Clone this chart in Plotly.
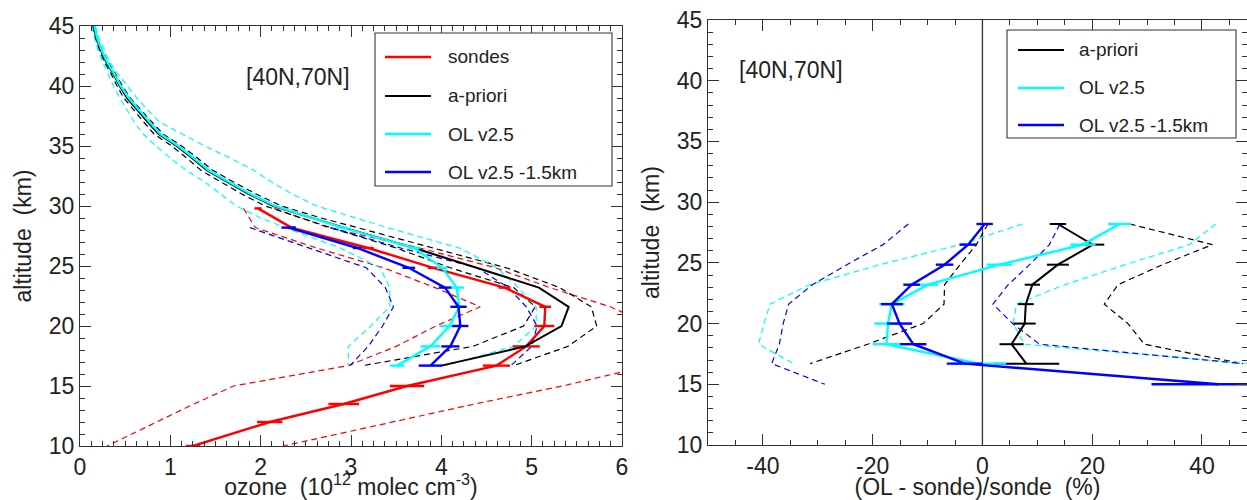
import plotly.graph_objects as go

# ---------------- LEFT PANEL DATA (ozone, 1e12 molec cm-3) ----------------
alt_upper = [45, 44, 43, 42, 41, 40, 39, 38, 37, 36, 35, 34, 33, 32, 31, 30, 29]
alt_levels = [28.2, 26.5, 24.85, 23.2, 21.6, 20.0, 18.3, 16.7]
sonde_alt = [29.8, 28.2, 26.5, 24.85, 23.2, 21.6, 20.0, 18.3, 16.7, 15.0, 13.5, 12.0, 10.0]

sonde_mean = [1.97, 2.34, 3.19, 3.91, 4.70, 5.15, 5.14, 4.94, 4.61, 3.62, 2.92, 2.10, 1.25]
sonde_err = [0.04, 0.04, 0.06, 0.06, 0.065, 0.065, 0.11, 0.15, 0.15, 0.19, 0.17, 0.14, 0.08]
sonde_lo = [1.81, 1.94, 2.62, 3.36, 3.93, 4.43, 3.94, 3.50, 2.97, 1.70, 1.26, 0.85, 0.30]
sonde_hi = [2.15, 2.75, 3.76, 4.60, 5.20, 5.87, 6.35, 6.40, 6.30, 5.34, 4.37, 3.47, 2.25]

apr_upper = [0.15, 0.18, 0.23, 0.29, 0.37, 0.44, 0.52, 0.63, 0.75, 0.87, 1.07, 1.24, 1.40, 1.63, 1.87, 2.14, 2.56]
apr_levels = [2.92, 3.70, 4.40, 5.08, 5.41, 5.33, 4.93, 4.00]
apr_lo_upper = [0.14, 0.17, 0.215, 0.27, 0.345, 0.41, 0.485, 0.59, 0.705, 0.82, 1.015, 1.18, 1.335, 1.56, 1.79, 2.05, 2.45]
apr_lo_levels = [2.77, 3.50, 4.10, 4.80, 5.04, 4.91, 4.35, 3.13]
apr_hi_upper = [0.16, 0.19, 0.245, 0.31, 0.395, 0.47, 0.555, 0.67, 0.795, 0.92, 1.125, 1.30, 1.465, 1.70, 1.95, 2.23, 2.67]
apr_hi_levels = [3.07, 3.90, 4.72, 5.31, 5.66, 5.72, 5.40, 4.80]

ol_upper = [0.16, 0.19, 0.24, 0.30, 0.38, 0.45, 0.54, 0.65, 0.77, 0.89, 1.09, 1.26, 1.42, 1.65, 1.89, 2.16, 2.58]
ol_levels = [2.90, 3.70, 4.01, 4.17, 4.20, 4.09, 3.88, 3.51]
ol_err_levels = [0.06, 0.06, 0.06, 0.08, 0.07, 0.11, 0.11, 0.08]
ol_lo_upper = [0.13, 0.16, 0.20, 0.25, 0.31, 0.37, 0.44, 0.52, 0.60, 0.70, 0.84, 1.00, 1.17, 1.38, 1.56, 1.73, 2.00]
ol_lo_levels = [2.27, 2.88, 3.32, 3.43, 3.43, 3.22, 2.97, 2.97]
ol_hi_upper = [0.17, 0.21, 0.27, 0.33, 0.42, 0.52, 0.63, 0.75, 0.88, 1.13, 1.38, 1.66, 1.92, 2.12, 2.35, 2.62, 3.05]
ol_hi_levels = [3.40, 4.20, 4.62, 4.85, 5.05, 5.05, 4.80, 4.05]

olm_mean = [2.31, 3.07, 3.64, 4.04, 4.19, 4.21, 4.10, 3.88]
olm_err = [0.08, 0.05, 0.07, 0.07, 0.09, 0.09, 0.10, 0.13]
olm_lo = [1.88, 2.53, 3.17, 3.38, 3.47, 3.35, 3.19, 2.99]
olm_hi = [2.77, 3.55, 4.40, 4.74, 4.94, 5.06, 5.00, 4.77]

# ---------------- RIGHT PANEL DATA ((OL - sonde)/sonde, %) ----------------
rel_alt = [28.2, 26.5, 24.85, 23.2, 21.6, 20.0, 18.3, 16.7]
rel_alt_olm = [28.2, 26.5, 24.85, 23.2, 21.6, 20.0, 18.3, 16.7, 15.0]

apr_rel = [13.75, 20.1, 13.75, 9.1, 7.9, 7.7, 5.3, 8.0]
apr_rel_err = [1.5, 2.1, 2.0, 1.4, 1.45, 2.0, 2.2, 6.0]
apr_rel_lo = [1.0, -1.1, -4.1, -6.9, -7.0, -10.8, -20.9, -31.4]
apr_rel_hi = [26.8, 41.9, 32.8, 24.7, 22.2, 26.5, 29.5, 47.4]

ol_rel = [25.0, 18.3, 3.1, -9.9, -16.5, -17.2, -17.5, -0.7]
ol_rel_err = [2.1, 2.3, 2.3, 1.8, 2.3, 2.5, 2.5, 5.0]
ol_rel_lo = [7.3, -4.1, -18.7, -31.5, -38.7, -39.8, -40.8, -34.4]
ol_rel_hi = [42.5, 37.7, 26.0, 15.0, 6.2, 5.6, 7.7, 48.5]

olm_rel = [0.4, -2.6, -6.9, -12.9, -16.5, -15.1, -12.6, -3.2, 43.0]
olm_rel_err = [1.5, 1.6, 1.6, 1.5, 2.0, 2.3, 2.4, 3.3, 12.2]
olm_rel_lo = [-13.5, -18.1, -24.7, -31.0, -35.3, -36.3, -37.0, -38.4, -28.7]
olm_rel_hi = [14.1, 12.2, 8.6, 4.7, 1.9, 5.5, 10.4, 47.5]

# ---------------- labels ----------------
region_label = "[40N,70N]"
left_legend = ["sondes", "a-priori", "OL v2.5", "OL v2.5 -1.5km"]
right_legend = ["a-priori", "OL v2.5", "OL v2.5 -1.5km"]
rel_tickvals = [-40, -20, 0, 20, 40]
rel_ticktext = ["-40", "-20", "0", "20", "40"]

RED, BLACK, CYAN, BLUE = "#ff0000", "#000000", "#00ffff", "#0000ff"
FONT = "Liberation Sans, Arial, Helvetica, sans-serif"
TXT = "#222222"
W, H = 1247, 500
SOLID_W = 2.4
DASH = "6px,4px"
DASH_W = 1.2

apr_alt = alt_upper + alt_levels
apr_x = apr_upper + apr_levels
apr_lo = apr_lo_upper + apr_lo_levels
apr_hi = apr_hi_upper + apr_hi_levels
ol_x = ol_upper + ol_levels
ol_err = [None] * len(ol_upper) + ol_err_levels
ol_lo = ol_lo_upper + ol_lo_levels
ol_hi = ol_hi_upper + ol_hi_levels

fig = go.Figure()


def dashed(x, y, color, xa="x", ya="y"):
    fig.add_trace(go.Scatter(x=x, y=y, mode="lines", xaxis=xa, yaxis=ya,
                             line=dict(color=color, width=DASH_W, dash=DASH),
                             showlegend=False, hoverinfo="skip"))


def solid(x, y, err, color, name, xa="x", ya="y", width=SOLID_W):
    fig.add_trace(go.Scatter(x=x, y=y, mode="lines", xaxis=xa, yaxis=ya, name=name,
                             line=dict(color=color, width=width),
                             error_x=dict(type="data", array=err, visible=True,
                                          color=color, thickness=width, width=0),
                             showlegend=False))


# left panel dashed spreads
dashed(sonde_lo, sonde_alt, RED)
dashed(sonde_hi, sonde_alt, RED)
dashed(apr_lo, apr_alt, BLACK)
dashed(apr_hi, apr_alt, BLACK)
dashed(ol_lo, apr_alt, CYAN)
dashed(ol_hi, apr_alt, CYAN)
dashed(olm_lo, alt_levels, BLUE)
dashed(olm_hi, alt_levels, BLUE)
# left panel means
solid(sonde_mean, sonde_alt, sonde_err, RED, "sondes")
solid(apr_x, apr_alt, [None] * len(apr_alt), BLACK, "a-priori", width=2.0)
solid(ol_x, apr_alt, ol_err, CYAN, "OL v2.5")
solid(olm_mean, alt_levels, olm_err, BLUE, "OL v2.5 -1.5km")

# right panel
dashed(apr_rel_lo, rel_alt, BLACK, "x2", "y2")
dashed(apr_rel_hi, rel_alt, BLACK, "x2", "y2")
dashed(ol_rel_lo, rel_alt, CYAN, "x2", "y2")
dashed(ol_rel_hi, rel_alt, CYAN, "x2", "y2")
dashed(olm_rel_lo, rel_alt_olm, BLUE, "x2", "y2")
dashed(olm_rel_hi, rel_alt, BLUE, "x2", "y2")
solid(apr_rel, rel_alt, apr_rel_err, BLACK, "a-priori", "x2", "y2", width=2.0)
solid(ol_rel, rel_alt, ol_rel_err, CYAN, "OL v2.5", "x2", "y2")
solid(olm_rel, rel_alt_olm, olm_rel_err, BLUE, "OL v2.5 -1.5km", "x2", "y2")

axis_common = dict(showline=True, linecolor="#333333", linewidth=1.3, mirror="ticks",
                   ticks="inside", ticklen=11, tickwidth=1.2, tickcolor="#333333",
                   showgrid=False, zeroline=False, automargin=False,
                   tickfont=dict(family=FONT, size=23, color=TXT))

fig.update_layout(
    template="none",
    width=W, height=H, margin=dict(l=0, r=0, t=0, b=0, pad=0),
    paper_bgcolor="white", plot_bgcolor="white",
    font=dict(family=FONT, color=TXT),
    showlegend=False,
    xaxis=dict(domain=[80 / W, 622 / W], range=[0, 6], dtick=1, tick0=0,
               minor=dict(dtick=0.125, tick0=0, ticks="inside", ticklen=5, tickwidth=1.1,
                          tickcolor="#333333", showgrid=False),
               title=dict(text="ozone  (10<sup>12</sup> molec cm<sup>-3</sup>)", standoff=12,
                          font=dict(family=FONT, size=23, color=TXT)),
               **axis_common),
    yaxis=dict(domain=[1 - 446 / H, 1 - 26 / H], range=[10, 45], dtick=5, tick0=10,
               minor=dict(dtick=1, tick0=10, ticks="inside", ticklen=5, tickwidth=1.1,
                          tickcolor="#333333", showgrid=False),
               title=dict(text="altitude  (km)", standoff=10,
                          font=dict(family=FONT, size=23, color=TXT)),
               **axis_common),
    xaxis2=dict(domain=[708 / W, 1.0], range=[-50, 48.2], anchor="y2",
                tickmode="array", tickvals=rel_tickvals, ticktext=rel_ticktext,
                minor=dict(tickmode="linear", dtick=5, tick0=0, ticks="inside", ticklen=5,
                           tickwidth=1.1, tickcolor="#333333", showgrid=False),
                title=dict(text="(OL - sonde)/sonde  (%)", standoff=12,
                           font=dict(family=FONT, size=23, color=TXT)),
                **axis_common),
    yaxis2=dict(domain=[1 - 445 / H, 1 - 20 / H], range=[10, 45], dtick=5, tick0=10,
                anchor="x2",
                minor=dict(dtick=1, tick0=10, ticks="inside", ticklen=5, tickwidth=1.1,
                           tickcolor="#333333", showgrid=False),
                title=dict(text="altitude  (km)", standoff=10,
                           font=dict(family=FONT, size=23, color=TXT)),
                **axis_common),
)

# zero line in the relative-difference panel
fig.add_shape(type="line", xref="x2", yref="y2 domain", x0=0, x1=0, y0=0, y1=1,
              line=dict(color="#333333", width=1.3), layer="below")


def px(x):
    return x / W


def py(y):
    return 1 - y / H


# region labels
fig.add_annotation(x=px(244), y=py(62), xref="paper", yref="paper", text=region_label,
                   showarrow=False, font=dict(family=FONT, size=23, color=TXT))
fig.add_annotation(x=px(791), y=py(55), xref="paper", yref="paper", text=region_label,
                   showarrow=False, font=dict(family=FONT, size=23, color=TXT))


def legend_box(x0, y0, x1, y1, lx0, lx1, tx, ys, labels, colors, widths):
    fig.add_shape(type="rect", xref="paper", yref="paper", x0=px(x0), x1=px(x1),
                  y0=py(y1), y1=py(y0), line=dict(color="#333333", width=1.1),
                  fillcolor="white", layer="above")
    for yy, lab, col, wd in zip(ys, labels, colors, widths):
        fig.add_shape(type="line", xref="paper", yref="paper", x0=px(lx0), x1=px(lx1),
                      y0=py(yy), y1=py(yy), line=dict(color=col, width=wd), layer="above")
        fig.add_annotation(x=px(tx), y=py(yy), xref="paper", yref="paper", text=lab,
                           showarrow=False, xanchor="left", yanchor="middle",
                           font=dict(family=FONT, size=19, color=TXT))


legend_box(375, 33, 612, 186, 385, 431, 446, [57, 96, 134, 172], left_legend,
           [RED, BLACK, CYAN, BLUE], [SOLID_W, 2.0, SOLID_W, SOLID_W])
legend_box(1007, 30, 1236, 138, 1018, 1064, 1077, [50, 88, 125], right_legend,
           [BLACK, CYAN, BLUE], [2.0, SOLID_W, SOLID_W])

fig.write_html("out.html", config={"displayModeBar": False},
               post_script="document.body.style.margin='0';document.body.style.overflow='hidden';")
